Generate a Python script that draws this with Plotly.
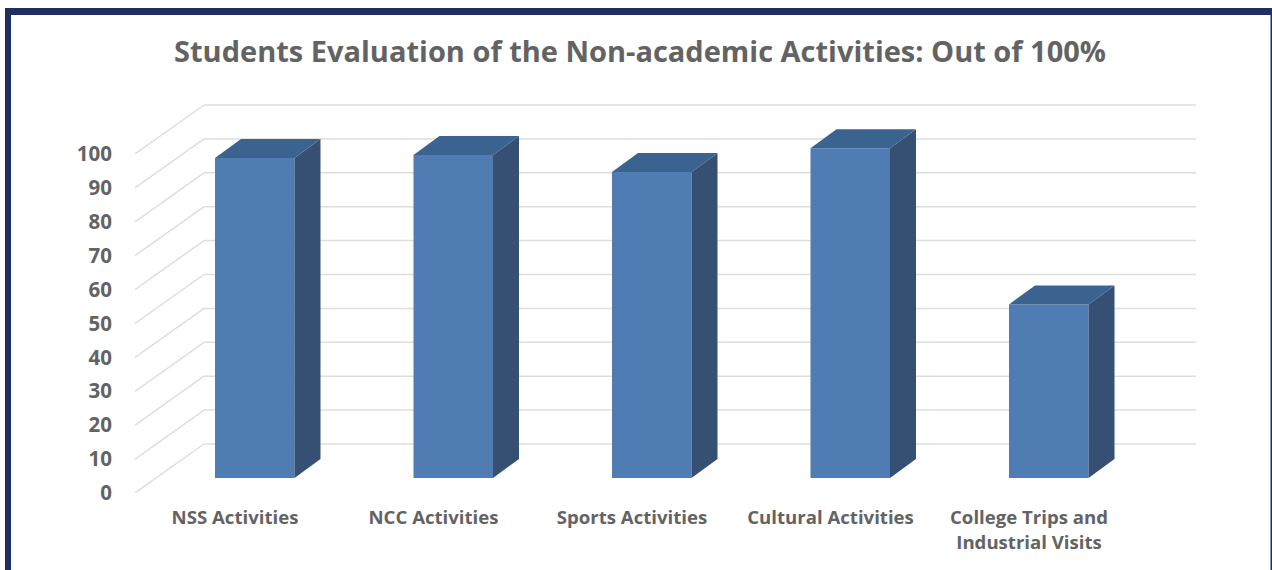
import plotly.graph_objects as go

categories = ["NSS Activities", "NCC Activities", "Sports Activities", "Cultural Activities",
              "College Trips and<br>Industrial Visits"]
values = [94.4, 95.3, 90.3, 97.3, 51.2]
y_ticks = [0, 10, 20, 30, 40, 50, 60, 70, 80, 90, 100]
title_text = "Students Evaluation of the Non-academic Activities: Out of 100%"

W, H = 1272, 570
L, R, T, B = 135, 1196, 100, 493
PX_X = 198.5            # pixels per category
PX_Y = 3.39             # pixels per value unit
x0_px = 235             # pixel of category 0 on the front plane


def dx(px):
    return px / PX_X


def dy(px):
    return px / PX_Y


BAR_W = dx(79.5)
BAR_SHIFT = dx(19.75)
BAR_BASE = dy(15)
DEPTH_X, DEPTH_Y = dx(26), dy(19)
WALL_X, WALL_Y = dx(69), dy(49)
xmin = (L - x0_px) / PX_X
xmax = (R - x0_px) / PX_X
ymax = (B - T) / PX_Y

TEXT = "#636363"
GRID = "#dedede"
FRONT = "#4f7cb3"
TOP = "#3a638f"
SIDE = "#365074"
NAVY = "#1f2f60"
FONT = "Open Sans"

fig = go.Figure()
idx = list(range(len(categories)))

fig.add_trace(go.Bar(
    x=[i + BAR_SHIFT for i in idx], y=values, base=BAR_BASE, width=BAR_W,
    marker=dict(color=FRONT, line=dict(width=0)), hoverinfo="skip", showlegend=False,
))

for i, v in zip(idx, values):
    left = i + BAR_SHIFT - BAR_W / 2
    right = i + BAR_SHIFT + BAR_W / 2
    top = BAR_BASE + v
    fig.add_trace(go.Scatter(
        x=[right, right + DEPTH_X, right + DEPTH_X, right, right],
        y=[BAR_BASE, BAR_BASE + DEPTH_Y, top + DEPTH_Y, top, BAR_BASE],
        mode="lines", fill="toself", fillcolor=SIDE, line=dict(width=0),
        hoverinfo="skip", showlegend=False,
    ))
    fig.add_trace(go.Scatter(
        x=[left, left + DEPTH_X, right + DEPTH_X, right, left],
        y=[top, top + DEPTH_Y, top + DEPTH_Y, top, top],
        mode="lines", fill="toself", fillcolor=TOP, line=dict(width=0),
        hoverinfo="skip", showlegend=False,
    ))

shapes = []
for t in y_ticks:
    for x_a, y_a, x_b, y_b in [(xmin, t, xmin + WALL_X, t + WALL_Y),
                               (xmin + WALL_X, t + WALL_Y, xmax, t + WALL_Y)]:
        shapes.append(dict(type="line", xref="x", yref="y", x0=x_a, y0=y_a, x1=x_b, y1=y_b,
                           layer="below", line=dict(color=GRID, width=1.5)))

# frame of the picture: heavy top and left edges, hairline right edge
for x_a, y_a, x_b, y_b in [(5, 8, W, 15), (5, 8, 11, H), (W - 1.5, 8, W, H)]:
    shapes.append(dict(type="rect", xref="paper", yref="paper",
                       x0=(x_a - L) / (R - L), x1=(x_b - L) / (R - L),
                       y0=(B - y_a) / (B - T), y1=(B - y_b) / (B - T),
                       fillcolor=NAVY, line=dict(width=0), layer="above"))

fig.update_layout(
    width=W, height=H, autosize=False,
    margin=dict(l=L, r=W - R, t=T, b=H - B, pad=0),
    paper_bgcolor="white", plot_bgcolor="white",
    font=dict(family=FONT, color=TEXT),
    shapes=shapes,
    title=dict(text=f"<b>{title_text}</b>", x=640 / W, xanchor="center", y=1 - 52 / H, yanchor="middle",
               font=dict(family=FONT, size=29, color=TEXT)),
    xaxis=dict(range=[xmin, xmax], tickmode="array", tickvals=idx,
               ticktext=[f"<b>{c}</b>" for c in categories],
               tickfont=dict(family=FONT, size=18.6, color=TEXT), tickangle=0,
               showgrid=False, zeroline=False, showline=False,
               ticks="outside", ticklen=8, tickcolor="rgba(0,0,0,0)"),
    yaxis=dict(range=[0, ymax], tickmode="array", tickvals=y_ticks,
               ticktext=[f"<b>{t}</b>" for t in y_ticks],
               tickfont=dict(family=FONT, size=20.5, color=TEXT),
               showgrid=False, zeroline=False, showline=False,
               ticks="outside", ticklen=18, tickcolor="rgba(0,0,0,0)"),
)

fig.write_html("out.html", config={"displayModeBar": False},
               post_script="document.body.style.margin='0';document.body.style.overflow='hidden';")
